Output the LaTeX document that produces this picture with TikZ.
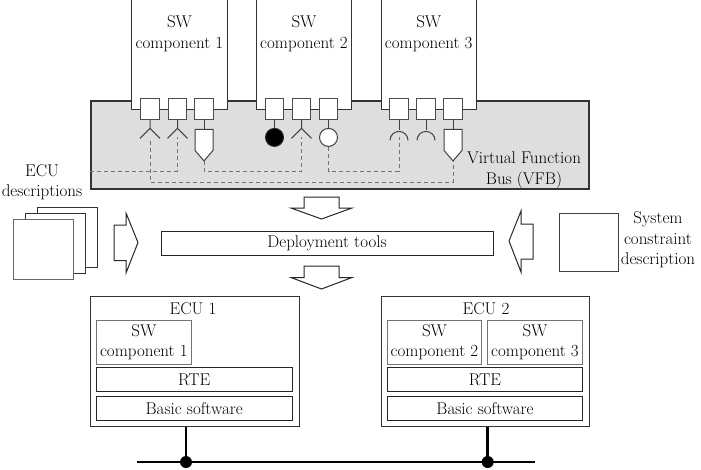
\documentclass[tikz,border=0pt]{standalone}
\usepackage{fontspec}
\usetikzlibrary{calc}
\begin{document}
\begin{tikzpicture}[x=1pt,y=-1pt,
  font=\fontsize{17}{20.5}\selectfont,
  ln/.style={draw=black!80, line width=1pt},
  port/.style={draw=black!70, fill=white, line width=0.9pt, minimum width=18.5pt, minimum height=20.5pt, inner sep=0pt},
  dsh/.style={draw=black!55, dash pattern=on 4pt off 3pt, line width=0.9pt},
  box/.style={draw=black!85, line width=1pt, inner sep=0pt, align=center, fill=white},
  gbox/.style={draw=black!55, line width=1pt, inner sep=0pt, align=center, fill=white},
  txt/.style={align=center, inner sep=0pt},
  blk/.style={draw=black!85, line width=1pt, fill=white, line join=miter},
  bus/.style={draw=black, line width=2.6pt}
]
\useasboundingbox (0,0) rectangle (701,469);

% Virtual function bus
\node[box, fill=black!13, draw=black!80, line width=1.3pt, minimum width=498pt, minimum height=88pt] (vfb) at (340,145) {};

% SW components on top
\foreach \n/\xa/\xb in {1/131.5/227.5, 2/256.5/351.5, 3/381/476.5}{
  \fill[white] (\xa,-2) rectangle (\xb,109);
  \draw[ln] (\xa,-2) -- (\xa,109) -- (\xb,109) -- (\xb,-2);
  \node[txt] (swc\n) at ({(\xa+\xb)/2},33.5) {SW\\component \n};
}

% ports
\foreach \name/\x in {p11/150, p12/177.5, p13/204, p21/274.5, p22/301.5, p23/328.5, p31/399, p32/426, p33/453}{
  \node[port] (\name) at (\x,108.7) {};
}

% require (V) ports
\foreach \p in {p11,p12,p22}{
  \draw[ln, draw=black!75] (\p.south) -- ++(0,9) coordinate (\p a) -- ++(-10,10);
  \draw[ln, draw=black!75] (\p a) -- ++(10,10);
}
% pentagon ports
\foreach \p in {p13,p33}{
  \draw[ln, draw=black!75] (\p.south) -- ++(0,10) coordinate (\p a);
  \draw[ln, draw=black!75, fill=white] (\p a) -- ++(-9,0) -- ++(0,21) -- ++(9,10.5) coordinate (\p t) -- ++(9,-10.5) -- ++(0,-21) -- cycle;
}
% circle ports
\draw[ln, draw=black!75] (p21.south) -- ++(0,9);
\draw[ln, draw=black!85, fill=black] ($(p21.south)+(0,18)$) circle[radius=9];
\draw[ln, draw=black!75] (p23.south) -- ++(0,9);
\draw[ln, draw=black!75, fill=white] ($(p23.south)+(0,18)$) circle[radius=9];
% arc ports
\foreach \p in {p31,p32}{
  \draw[ln, draw=black!75] (\p.south) -- ++(0,11);
  \draw[ln, draw=black!75] ($(\p.south)+(-9,21)$) arc[start angle=180, end angle=360, radius=9];
}

% dashed connections
\coordinate (dA) at (vfb.west |- 0,171);
\coordinate (eA) at ($(p12a)+(0,9)$);
\coordinate (sB) at ($(p11a)+(0,13)$);
\coordinate (eC) at ($(p22a)+(0,9)$);
\coordinate (sD) at ($(p23.south)+(0,27.5)$);
\coordinate (eD) at ($(p31.south)+(0,18)$);
\draw[dsh] (dA) -| (eA);
\draw[dsh] (sB) -- (sB |- 0,182) -| (p33t);
\draw[dsh] (p13t) -- (p13t |- 0,171) -| (eC);
\draw[dsh] (sD) -- (sD |- 0,171) -| (eD);

\node[txt] (vfbl) at (524,170) {Virtual Function\\Bus (VFB)};

% ECU descriptions
\node[txt] (ecud) at (42,182) {ECU\\descriptions};
\node[gbox, draw=black!80, minimum width=60pt, minimum height=60pt] (ed3) at (67,237.5) {};
\node[gbox, draw=black!80, minimum width=60pt, minimum height=60pt] (ed2) at (55,243.5) {};
\node[gbox, draw=black!60, minimum width=60pt, minimum height=60pt] (ed1) at (43.5,249.3) {};

% deployment tools
\node[box, minimum width=332pt, minimum height=23.5pt] (dep) at (327,243.3) {Deployment tools};

% block arrows
\coordinate (ar) at (114,242.5);
\draw[blk] (ar) ++(0,-17.5) -- ++(12,0) -- ++(0,-12) -- ++(12,29.5) -- ++(-12,30.5) -- ++(0,-12.5) -- ++(-12,0) -- cycle;
\coordinate (al) at (533,241.5);
\draw[blk] (al) ++(0,-17.5) -- ++(-12,0) -- ++(0,-13) -- ++(-12,30) -- ++(12,31) -- ++(0,-13) -- ++(12,0) -- cycle;
\coordinate (ad1) at (321.5,197);
\draw[blk] (ad1) ++(-17.5,0) -- ++(35,0) -- ++(0,11) -- ++(13,0) -- ++(-30.5,11) -- ++(-30.5,-11) -- ++(13,0) -- cycle;
\coordinate (ad2) at (321.5,266);
\draw[blk] (ad2) ++(-17.5,0) -- ++(35,0) -- ++(0,11.5) -- ++(13,0) -- ++(-30.5,11.5) -- ++(-30.5,-11.5) -- ++(13,0) -- cycle;

% system constraint description
\node[gbox, draw=black!75, minimum width=59pt, minimum height=58.5pt] (scd) at (588.7,242.5) {};
\node[txt] (scdl) at (658,240) {System\\constraint\\description};

% ECU 1
\node[box, draw=black!80, minimum width=208.3pt, minimum height=130pt] (ecu1) at (194.85,361.7) {};
\node[txt] (ecu1l) at (193,308.5) {ECU 1};
\node[gbox, minimum width=95.7pt, minimum height=44pt] (e1sw) at (143.85,342) {SW\\component 1};
\node[box, minimum width=196.3pt, minimum height=24.4pt] (e1rte) at (194.15,379.5) {RTE};
\node[box, minimum width=196.3pt, minimum height=24pt] (e1bsw) at (194.15,408.7) {Basic software};

% ECU 2
\node[box, draw=black!80, minimum width=207.6pt, minimum height=130pt] (ecu2) at (485.5,361.7) {};
\node[txt] (ecu2l) at (486,308.5) {ECU 2};
\node[gbox, minimum width=94.4pt, minimum height=44pt] (e2sw2) at (434.5,342) {SW\\component 2};
\node[gbox, minimum width=95.4pt, minimum height=44pt] (e2sw3) at (535,342) {SW\\component 3};
\node[box, minimum width=195.4pt, minimum height=24.4pt] (e2rte) at (485,379.5) {RTE};
\node[box, minimum width=195.4pt, minimum height=24pt] (e2bsw) at (485,408.7) {Basic software};

% bus
\coordinate (busl) at (137,462);
\coordinate (busr) at (535,462);
\coordinate (j1) at (186,462);
\coordinate (j2) at (487.7,462);
\draw[bus] (busl) -- (busr);
\draw[bus] (ecu1.south -| j1) -- (j1);
\draw[bus] (ecu2.south -| j2) -- (j2);
\fill (j1) circle[radius=6];
\fill (j2) circle[radius=6];
\end{tikzpicture}
\end{document}
